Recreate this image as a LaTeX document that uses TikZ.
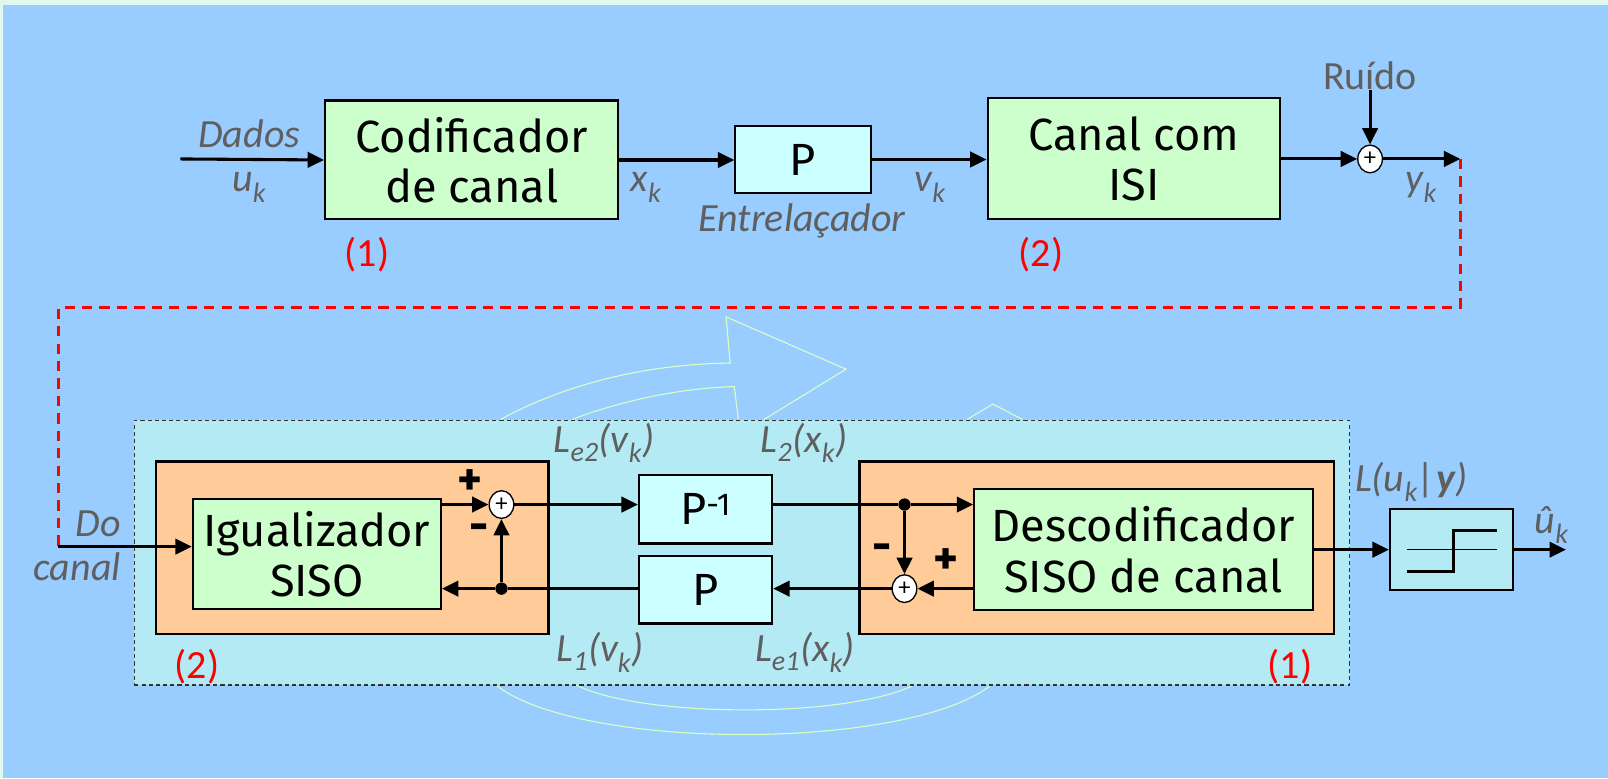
\documentclass[tikz,border=0pt]{standalone}
\usepackage{fontspec}
\usetikzlibrary{arrows.meta,shapes.geometric}
\newfontfamily\boxfont{Fira Sans}
\newfontfamily\lblfont{Carlito}
\definecolor{bgblue}{HTML}{99CCFF}
\definecolor{mint}{HTML}{E0F8F0}
\definecolor{boxgreen}{HTML}{CCFFCC}
\definecolor{boxcyan}{HTML}{CCFFFF}
\definecolor{panel}{HTML}{B3EAF4}
\definecolor{boxorange}{HTML}{FFCC99}
\definecolor{lblgray}{HTML}{5F5F5F}
\definecolor{deco}{HTML}{D8FFC8}
\tikzset{
  block/.style={draw=black, line width=2pt, inner sep=0pt, align=center,
    font={\boxfont\fontsize{44}{49}\selectfont}},
  gbox/.style={block, fill=boxgreen},
  cbox/.style={block, fill=boxcyan},
  obox/.style={draw=black, line width=2.4pt, fill=boxorange, inner sep=0pt},
  lbl/.style={text=lblgray, inner sep=0pt, font={\lblfont\itshape\fontsize{39}{44}\selectfont}},
  lblup/.style={text=lblgray, inner sep=0pt, font={\lblfont\fontsize{39}{44}\selectfont}},
  redlbl/.style={text=red, inner sep=0pt, font={\lblfont\fontsize{39}{44}\selectfont}},
  sign/.style={text=black, inner sep=0pt, font={\boxfont\bfseries\fontsize{46}{46}\selectfont}},
  sig/.style={line width=3pt, -{Triangle[length=16pt,width=15pt]}},
  sumnode/.style={shape=ellipse, draw=black, line width=1.3pt, fill=white,
    minimum width=24pt, minimum height=27pt, inner sep=0pt,
    font={\lblfont\fontsize{24}{24}\selectfont}},
  dotnode/.style={circle, fill=black, minimum size=12pt, inner sep=0pt},
  decoline/.style={draw=deco, line width=1.1pt},
}
\begin{document}
\begin{tikzpicture}[x=1pt,y=-1pt]
% background
\fill[mint] (0,0) rectangle (1568,759);
\fill[bgblue] (3,5) rectangle (1568,759);
\useasboundingbox (0,0) rectangle (1568,759);

% decorative curved arrows
\draw[decoline] (488,409) .. controls (560,370) and (640,355) .. (712,354)
  -- (708,309) -- (825,360) -- (745,409);
\draw[decoline] (558,409) .. controls (610,389) and (670,378) .. (716,377) -- (720,409);
\draw[decoline] (943,409) -- (968,394) -- (997,409);
\draw[decoline] (481,666) .. controls (560,733) and (890,733) .. (969,666);
\draw[decoline] (558,666) .. controls (620,701) and (833,701) .. (895,666);

% ---------------- top row ----------------
\coordinate (in1) at (176,155);
\node[gbox, minimum width=286pt, minimum height=116pt] (cod) at (460,156) {Codificador\\de canal};
\node[cbox, minimum width=132pt, minimum height=65pt] (perm) at (783,155.5) {P};
\node[gbox, minimum width=285pt, minimum height=118pt] (canal) at (1105.5,155) {Canal com\\ISI};
\node[sumnode] (sum1) at (1336,155) {+};
\node[lblup, anchor=south] (ruido) at (1336,88) {Ruído};
\coordinate (yend) at (1424,155);

\draw[sig] (in1) -- (cod.west);
\draw[sig] (cod.east) -- (perm.west |- cod.east);
\draw[sig] (perm.east) -- (canal.west |- perm.east);
\draw[sig] (canal.east |- sum1) -- (sum1.west);
\draw[sig] (ruido.south) -- (sum1.north);
\draw[sig] (sum1.east) -- (yend);

\node[lbl] (dados) at (243,130) {Dados};
\node[lbl] (uk) at (243,183) {u\textsubscript{k}};
\node[lbl] (xk) at (630,183) {x\textsubscript{k}};
\node[lbl] (entrel) at (782,215) {Entrelaçador};
\node[lbl] (vk) at (907,183) {v\textsubscript{k}};
\node[lbl] (yk) at (1386,183) {y\textsubscript{k}};
\node[redlbl] (n1a) at (358,248) {(1)};
\node[redlbl] (n2a) at (1015,248) {(2)};

% red dashed link
\coordinate (c1) at (1424,300);
\coordinate (c2) at (57,300);
\coordinate (docanal) at (57,533);
\draw[red, line width=2.5pt, dash pattern=on 10pt off 7pt] (yend) -- (c1) -- (c2) -- (docanal);

% ---------------- bottom ----------------
\node[draw=black!80, line width=1.2pt, dash pattern=on 4pt off 3pt, fill=panel,
  minimum width=1185pt, minimum height=258pt, inner sep=0pt] (panelbox) at (723.5,539) {};
\node[obox, minimum width=383pt, minimum height=168pt] (org1) at (343.5,534) {};
\node[obox, minimum width=463pt, minimum height=168pt] (org2) at (1069.5,534) {};
\node[gbox, minimum width=242pt, minimum height=107pt] (igual) at (309,540.5) {Igualizador\\SISO};
\node[gbox, minimum width=330pt, minimum height=118pt] (desc) at (1115,536) {Descodificador\\SISO de canal};
\node[cbox, minimum width=130pt, minimum height=67pt] (pinv) at (688,496.5) {P\textsuperscript{-1}};
\node[cbox, minimum width=130pt, minimum height=66pt] (p2) at (688,575) {P};
\node[sumnode] (sum2) at (489,492) {+};
\node[sumnode] (sum3) at (882,574) {+};
\node[dotnode] (dot1) at (882,492) {};
\node[dotnode] (dot2) at (489,574) {};
\node[draw=black, line width=2.4pt, fill=panel, minimum width=120pt, minimum height=79pt, inner sep=0pt] (dec) at (1415.5,536) {};
\coordinate (outk) at (1527,536);

% connectors
\draw[sig] (docanal) -- (igual.west |- docanal);
\draw[sig] (igual.east |- sum2) -- (sum2.west);
\draw[sig] (sum2.east) -- (pinv.west |- sum2);
\draw[line width=3pt] (pinv.east |- dot1) -- (dot1);
\draw[sig] (dot1) -- (desc.west |- dot1);
\draw[sig] (dot1) -- (sum3.north);
\draw[sig] (desc.west |- sum3) -- (sum3.east);
\draw[sig] (sum3.west) -- (p2.east |- sum3);
\draw[line width=3pt] (p2.west |- dot2) -- (dot2);
\draw[sig] (dot2) -- (igual.east |- dot2);
\draw[sig] (dot2) -- (sum2.south);
\draw[sig] (desc.east |- dec) -- (dec.west);
\draw[sig] (dec.east) -- (outk);

% step symbol
\draw[line width=1.3pt] (1372,536) -- (1460,536);
\draw[line width=2.8pt] (1372,557) -- (1417,557) -- (1417,517) -- (1460,517);

% signs
\node[sign] (pl1) at (458,471) {+};
\node[sign] (mi1) at (467,519) {-};
\node[sign] (mi2) at (860,539) {-};
\node[sign] (pl2) at (922,548) {+};

% labels
\node[lbl] (le2) at (589,432) {L\textsubscript{e2}(v\textsubscript{k})};
\node[lbl] (l2) at (784,432) {L\textsubscript{2}(x\textsubscript{k})};
\node[lbl] (l1) at (585,636) {L\textsubscript{1}(v\textsubscript{k})};
\node[lbl] (le1) at (785,636) {L\textsubscript{e1}(x\textsubscript{k})};
\node[lbl] (luy) at (1376,470) {L(u\textsubscript{k}|\textbf{y})};
\node[lbl] (uhat) at (1513,512) {û\textsubscript{k}};
\node[lbl, anchor=east] (do) at (118,511) {Do};
\node[lbl, anchor=east] (canallbl) at (118,553) {canal};
\node[redlbl] (n2b) at (192,650) {(2)};
\node[redlbl] (n1b) at (1258,650) {(1)};
\end{tikzpicture}
\end{document}
